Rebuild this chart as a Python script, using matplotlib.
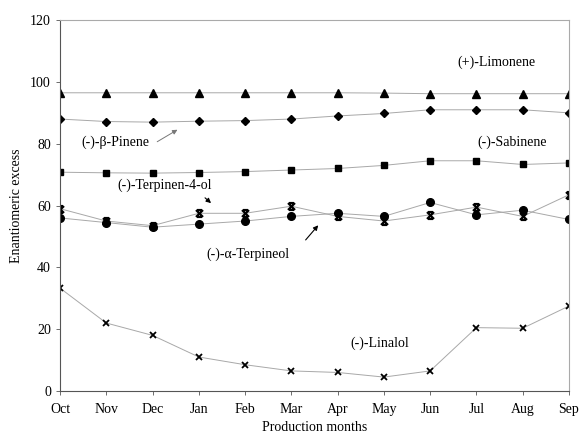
import numpy as np
import matplotlib.pyplot as plt
from matplotlib.path import Path

months = ["Oct", "Nov", "Dec", "Jan", "Feb", "Mar", "Apr", "May", "Jun", "Jul", "Aug", "Sep"]

limonene = [96.5, 96.5, 96.5, 96.5, 96.5, 96.5, 96.5, 96.4, 96.2, 96.2, 96.2, 96.2]
pinene = [88.0, 87.2, 87.0, 87.3, 87.5, 88.0, 89.0, 89.8, 91.0, 91.0, 91.0, 90.0]
sabinene = [70.8, 70.6, 70.5, 70.7, 71.0, 71.5, 72.0, 73.0, 74.5, 74.5, 73.3, 73.8]
terpinen4ol = [59.0, 55.0, 53.5, 57.5, 57.5, 59.8, 56.5, 55.0, 57.0, 59.5, 56.5, 63.5]
terpineol = [56.0, 54.5, 53.0, 54.0, 55.0, 56.5, 57.5, 56.5, 61.0, 57.0, 58.5, 55.5]
linalol = [33.3, 22.0, 18.0, 11.0, 8.5, 6.5, 6.0, 4.5, 6.5, 20.5, 20.3, 27.5]

plt.rcParams['font.family'] = ['Liberation Serif', 'DejaVu Serif']

# excel style star marker: x with bars top and bottom
star = Path([(-1, -1), (1, 1), (-1, 1), (1, -1), (-0.7, 1), (0.7, 1), (-0.7, -1), (0.7, -1)],
            [Path.MOVETO, Path.LINETO, Path.MOVETO, Path.LINETO,
             Path.MOVETO, Path.LINETO, Path.MOVETO, Path.LINETO])

fig = plt.figure(figsize=(5.8, 4.42), dpi=100)
ax = fig.add_axes([0.1034, 0.1154, 0.8776, 0.839])
x = np.arange(len(months))

lc = '#a8a8a8'
lw = 0.7
ax.plot(x, limonene, color=lc, lw=lw, marker='^', ms=5.5, mfc='black', mec='black')
ax.plot(x, pinene, color=lc, lw=lw, marker='D', ms=4, mfc='black', mec='black')
ax.plot(x, sabinene, color=lc, lw=lw, marker='s', ms=5, mfc='black', mec='black')
ax.plot(x, terpinen4ol, color=lc, lw=lw, marker=star, ms=5, mfc='none', mec='black', mew=1.6)
ax.plot(x, terpineol, color=lc, lw=lw, marker='o', ms=5.5, mfc='black', mec='black')
ax.plot(x, linalol, color=lc, lw=lw, marker='x', ms=5, mec='black', mew=1.3)

fs = 10
ax.text(9.44, 106.4, "(+)-Limonene", fontsize=fs, ha='center', va='center')
ax.text(1.19, 80.5, "(-)-β-Pinene", fontsize=fs, ha='center', va='center')
ax.text(9.77, 80.5, "(-)-Sabinene", fontsize=fs, ha='center', va='center')
ax.text(2.27, 66.6, "(-)-Terpinen-4-ol", fontsize=fs, ha='center', va='center')
ax.text(4.06, 44.3, "(-)-α-Terpineol", fontsize=fs, ha='center', va='center')
ax.text(6.92, 15.5, "(-)-Linalol", fontsize=fs, ha='center', va='center')

ax.annotate("", xy=(2.59, 85), xytext=(2.05, 80.2),
            arrowprops=dict(arrowstyle='-|>', color='#777777', lw=0.7, mutation_scale=7))
ax.annotate("", xy=(3.31, 60.2), xytext=(3.09, 63.1),
            arrowprops=dict(arrowstyle='-|>', color='black', lw=0.8, mutation_scale=7))
ax.annotate("", xy=(5.62, 54.3), xytext=(5.27, 48.2),
            arrowprops=dict(arrowstyle='-|>', color='black', lw=0.8, mutation_scale=7))

ax.set_xlim(0, 11)
ax.set_ylim(0, 120)
ax.set_xticks(x)
ax.set_xticklabels(months)
ax.set_yticks(np.arange(0, 121, 20))
ax.tick_params(labelsize=fs, direction='out', length=3, width=0.6, colors='#555555', labelcolor='black')
ax.tick_params(axis='x', pad=6)
for side in ['left', 'bottom']:
    ax.spines[side].set_color('#555555')
    ax.spines[side].set_linewidth(0.8)
for side in ['top', 'right']:
    ax.spines[side].set_color('#aaaaaa')
    ax.spines[side].set_linewidth(0.8)

ax.set_xlabel("Production months", fontsize=fs, labelpad=3)
ax.set_ylabel("Enantiomeric excess", fontsize=fs, labelpad=5)

fig.savefig("out.png", dpi=100)
